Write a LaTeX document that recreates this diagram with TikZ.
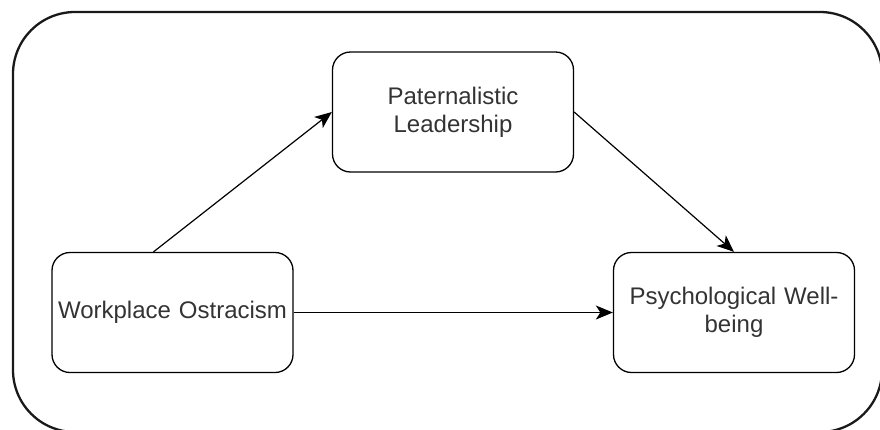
\documentclass[tikz,border=0pt]{standalone}
\usepackage{fontspec}
\setmainfont{Liberation Sans}
\usetikzlibrary{arrows.meta}
\definecolor{txt}{HTML}{333333}
\tikzset{
  box/.style={draw=black, line width=1.3pt, rounded corners=18pt, minimum width=241pt, minimum height=120pt,
    align=center, text width=236pt, font=\fontsize{24}{28}\selectfont, text=txt, inner sep=0pt},
  conn/.style={line width=1.2pt, -{Stealth[length=17pt,width=14pt,inset=4.5pt]}},
}
\begin{document}
\begin{tikzpicture}[x=1pt,y=-1pt]
\useasboundingbox (0,0) rectangle (880,429);
\clip (0,0) rectangle (880,429);
\draw[line width=2.3pt, draw=black!90, rounded corners=62pt] (13,12) rectangle (882,432);
\node[box] (pl) at (453,112) {Paternalistic\\Leadership};
\node[box] (wo) at (172.5,312.5) {Workplace Ostracism};
\node[box] (pw) at (734,312.5) {Psychological Well-\\being};
\draw[conn] ([xshift=-19pt]wo.north) -- ([yshift=0pt]pl.west);
\draw[conn] (pl.east) -- (pw.north);
\draw[conn] (wo.east) -- (pw.west);
\end{tikzpicture}
\end{document}
